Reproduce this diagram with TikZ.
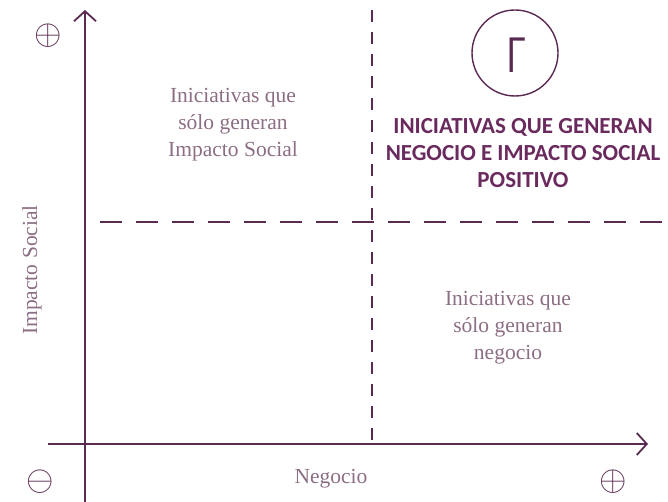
\documentclass[tikz,border=0pt]{standalone}
\usepackage{fontspec}
\setmainfont{Liberation Serif}
\newfontfamily\boldsans{Carlito}
\usetikzlibrary{arrows.meta}
\definecolor{axiscol}{HTML}{5A2A52}
\definecolor{softtext}{HTML}{8C6E84}
\definecolor{boldcol}{HTML}{6A2A5E}
\tikzset{
  axis/.style={draw=axiscol, line width=2.4pt, -{Straight Barb[length=10pt,width=22pt,line width=1.8pt]}},
  divider/.style={draw=axiscol, line width=2.4pt},
  softlabel/.style={text=softtext, align=center, font=\fontsize{21.5}{27}\selectfont},
  boldlabel/.style={text=boldcol, align=center, font=\boldsans\bfseries\fontsize{23}{27}\selectfont},
  signmark/.style={text=axiscol, inner sep=0pt},
  ringnode/.style={draw=axiscol, line width=1.4pt, circle, minimum size=86pt, inner sep=0pt}
}
\newcommand{\bigsign}[1]{\scalebox{1.7}{\huge$#1$}}
\begin{document}
\begin{tikzpicture}[x=1pt,y=-1pt]
\useasboundingbox (0,0) rectangle (668,502);
% dividers
\coordinate (vtop) at (372,10);
\coordinate (vbot) at (372,441);
\coordinate (hleft) at (100,222);
\coordinate (hright) at (668,222);
\draw[divider, dash pattern=on 12pt off 10pt] (vtop) -- (vbot);
\draw[divider, dash pattern=on 22pt off 14pt] (hleft) -- (hright);
% axes
\coordinate (ybot) at (85,502);
\coordinate (ytop) at (85,10);
\coordinate (xleft) at (48,444);
\coordinate (xright) at (648,444);
\draw[axis] (ybot) -- (ytop);
\draw[axis] (xleft) -- (xright);
% signs
\node[signmark] (plusy) at (48,36) {\bigsign{\oplus}};
\node[signmark] (minusx) at (40,482) {\bigsign{\ominus}};
\node[signmark] (plusx) at (613,482) {\bigsign{\oplus}};
% axis labels
\node[softlabel, rotate=90] (ylab) at (32,270) {Impacto Social};
\node[softlabel] (xlab) at (331,479) {Negocio};
% quadrant texts
\node[softlabel] (tl) at (233,125) {Iniciativas que\\sólo generan\\Impacto Social};
\node[softlabel] (br) at (508,328) {Iniciativas que\\sólo generan\\negocio};
\node[ringnode] (ring) at (515,53) {};
\node[text=axiscol, font=\sffamily\fontsize{50}{50}\selectfont, inner sep=0pt, xscale=0.8] (gam) at (517,55) {Γ};
\node[boldlabel] (tr) at (523,153) {INICIATIVAS QUE GENERAN\\NEGOCIO E IMPACTO SOCIAL\\POSITIVO};
\end{tikzpicture}
\end{document}
